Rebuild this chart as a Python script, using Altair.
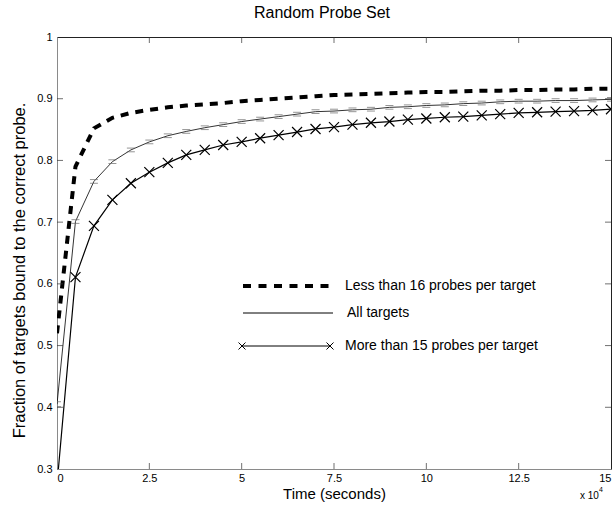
import altair as alt
import pandas as pd

# time in units of 10^4 seconds
t_vals = [0, 0.5, 1, 1.5, 2, 2.5, 3, 3.5, 4, 4.5, 5, 5.5, 6, 6.5, 7, 7.5,
          8, 8.5, 9, 9.5, 10, 10.5, 11, 11.5, 12, 12.5, 13, 13.5, 14, 14.5, 15]

less16 = [0.52, 0.79, 0.852, 0.869, 0.877, 0.882, 0.886, 0.889, 0.891, 0.893,
          0.896, 0.898, 0.900, 0.902, 0.904, 0.906, 0.907, 0.908, 0.909, 0.910,
          0.911, 0.911, 0.912, 0.913, 0.913, 0.914, 0.914, 0.915, 0.915, 0.916, 0.916]

all_targets = [0.405, 0.701, 0.766, 0.798, 0.817, 0.830, 0.840, 0.847, 0.853, 0.858,
               0.863, 0.867, 0.871, 0.875, 0.879, 0.880, 0.882, 0.883, 0.886, 0.887,
               0.889, 0.890, 0.892, 0.893, 0.895, 0.896, 0.896, 0.897, 0.897, 0.898, 0.899]

all_err = [0.004, 0.003, 0.003, 0.003, 0.003, 0.003, 0.003, 0.003, 0.003, 0.003,
           0.003, 0.003, 0.003, 0.003, 0.003, 0.003, 0.003, 0.003, 0.003, 0.003,
           0.003, 0.003, 0.003, 0.003, 0.003, 0.003, 0.003, 0.003, 0.003, 0.003, 0.003]

more15 = [0.275, 0.611, 0.694, 0.736, 0.763, 0.781, 0.796, 0.809, 0.817, 0.825,
          0.830, 0.836, 0.841, 0.846, 0.851, 0.854, 0.858, 0.861, 0.863, 0.866,
          0.868, 0.870, 0.871, 0.873, 0.875, 0.877, 0.878, 0.879, 0.880, 0.881, 0.883]

x_ticks = [0, 2.5, 5, 7.5, 10, 12.5, 15]
y_ticks = [0.3, 0.4, 0.5, 0.6, 0.7, 0.8, 0.9, 1.0]
x_inner = [2.5, 5, 7.5, 10, 12.5]
y_inner = [0.4, 0.5, 0.6, 0.7, 0.8, 0.9]

legend_labels = ["Less than 16 probes per target", "All targets",
                 "More than 15 probes per target"]

FONT = "Liberation Sans"

df_less = pd.DataFrame({"t": t_vals, "v": less16})
df_all = pd.DataFrame({"t": t_vals, "v": all_targets,
                       "lo": [a - e for a, e in zip(all_targets, all_err)],
                       "hi": [a + e for a, e in zip(all_targets, all_err)]})
df_more = pd.DataFrame({"t": t_vals, "v": more15})
df_xt = pd.DataFrame({"t": x_inner})
df_yt = pd.DataFrame({"v": y_inner})
one = pd.DataFrame({"k": [0]})
df_lab = [pd.DataFrame({"label": [s]}) for s in legend_labels]

xs = alt.Scale(domain=[0, 15], nice=False, zero=False)
ys = alt.Scale(domain=[0.3, 1.0], nice=False, zero=False)

x_axis = alt.Axis(values=x_ticks, format=".3~g", title="Time (seconds)",
                  grid=False, ticks=False, labelPadding=3, domainColor="#8a8a8a",
                  titlePadding=3, labelFont=FONT, titleFont=FONT, labelFontSize=11,
                  titleFontSize=15, titleFontWeight="normal", labelColor="black",
                  titleColor="black")
y_axis = alt.Axis(values=y_ticks, format=".3~g",
                  title="Fraction of targets bound to the correct probe.",
                  grid=False, ticks=False, labelPadding=5, domainColor="#8a8a8a",
                  titleX=-38, titleY=233, titleBaseline="middle", titleAngle=270,
                  titleAlign="center",
                  labelFont=FONT, titleFont=FONT, labelFontSize=11,
                  titleFontSize=16.5, titleFontWeight="normal", labelColor="black",
                  titleColor="black")

X = alt.X("t:Q", scale=xs, axis=x_axis)
Y = alt.Y("v:Q", scale=ys, axis=y_axis)

line_all = alt.Chart(df_all).mark_line(color="black", strokeWidth=0.8, clip=True).encode(x=X, y=Y)
cap_lo = alt.Chart(df_all).mark_tick(color="#666666", orient="horizontal", size=8,
                                     thickness=1, clip=True).encode(x=X, y=alt.Y("lo:Q", scale=ys))
cap_hi = alt.Chart(df_all).mark_tick(color="#666666", orient="horizontal", size=8,
                                     thickness=1, clip=True).encode(x=X, y=alt.Y("hi:Q", scale=ys))
line_more = alt.Chart(df_more).mark_line(color="black", strokeWidth=1.2, clip=True).encode(x=X, y=Y)
pts_more = alt.Chart(df_more).mark_point(
    shape="M-1,-1L1,1M1,-1L-1,1", size=100, filled=False, color="black",
    strokeWidth=1.2, opacity=1, clip=True).encode(x=X, y=Y)
line_less = alt.Chart(df_less).mark_line(color="black", strokeWidth=4, strokeDash=[8, 7],
                                         clip=True).encode(x=X, y=Y)

# inward ticks (MATLAB style)
tick_b = alt.Chart(df_xt).mark_tick(orient="vertical", size=6, yOffset=-3, thickness=1,
                                    color="#333333").encode(x=X, y=alt.datum(0.3))
tick_t = alt.Chart(df_xt).mark_tick(orient="vertical", size=6, yOffset=3, thickness=1,
                                    color="#333333").encode(x=X, y=alt.datum(1.0))
tick_l = alt.Chart(df_yt).mark_tick(orient="horizontal", size=6, xOffset=3, thickness=1,
                                    color="#333333").encode(y=Y, x=alt.datum(0))
tick_r = alt.Chart(df_yt).mark_tick(orient="horizontal", size=6, xOffset=-3, thickness=1,
                                    color="#333333").encode(y=Y, x=alt.datum(15))

# legend (drawn inside the axes)
leg1 = alt.Chart(one).mark_rule(color="black", strokeWidth=4, strokeDash=[8, 7.5]).encode(
    x=alt.value(186), x2=alt.value(273), y=alt.value(249))
leg2 = alt.Chart(one).mark_rule(color="black", strokeWidth=1).encode(
    x=alt.value(186), x2=alt.value(276), y=alt.value(276))
leg3 = alt.Chart(one).mark_rule(color="black", strokeWidth=1).encode(
    x=alt.value(185), x2=alt.value(273), y=alt.value(309))
leg3a = alt.Chart(one).mark_point(shape="M-1,-1L1,1M1,-1L-1,1", size=49, filled=False,
                                  color="black", strokeWidth=1, opacity=1).encode(
    x=alt.value(185), y=alt.value(309))
leg3b = alt.Chart(one).mark_point(shape="M-1,-1L1,1M1,-1L-1,1", size=49, filled=False,
                                  color="black", strokeWidth=1, opacity=1).encode(
    x=alt.value(273), y=alt.value(309))
txt_style = dict(font=FONT, fontSize=14, fontWeight="normal", align="left",
                 baseline="middle", fill="black")
leg_t1 = alt.Chart(df_lab[0]).mark_text(**txt_style).encode(
    text="label:N", x=alt.value(288), y=alt.value(249))
leg_t2 = alt.Chart(df_lab[1]).mark_text(**txt_style).encode(
    text="label:N", x=alt.value(290), y=alt.value(276))
leg_t3 = alt.Chart(df_lab[2]).mark_text(**txt_style).encode(
    text="label:N", x=alt.value(288), y=alt.value(309))

# exponent note
exp1 = alt.Chart(one).mark_text(text="x 10", font=FONT, fontSize=10, align="left",
                                baseline="middle", fill="black").encode(
    x=alt.value(523), y=alt.value(459))
exp2 = alt.Chart(one).mark_text(text="4", font=FONT, fontSize=7, align="left",
                                baseline="middle", fill="black").encode(
    x=alt.value(542), y=alt.value(453))

chart = alt.layer(
    line_all, cap_lo, cap_hi, line_more, pts_more, line_less,
    tick_b, tick_t, tick_l, tick_r,
    leg1, leg2, leg3, leg3a, leg3b, leg_t1, leg_t2, leg_t3, exp1, exp2
).properties(
    width=554, height=432,
    title=alt.TitleParams("Random Probe Set", font=FONT, fontSize=16, fontWeight="normal",
                          color="black", offset=10, dx=-12),
    autosize=alt.AutoSizeParams(type="none"),
    padding={"left": 57, "top": 37, "right": 1, "bottom": 43},
    background="white",
).configure_view(
    stroke="#222222", strokeWidth=1
)

chart.save("out.html", embed_options={"renderer": "svg", "actions": False})
